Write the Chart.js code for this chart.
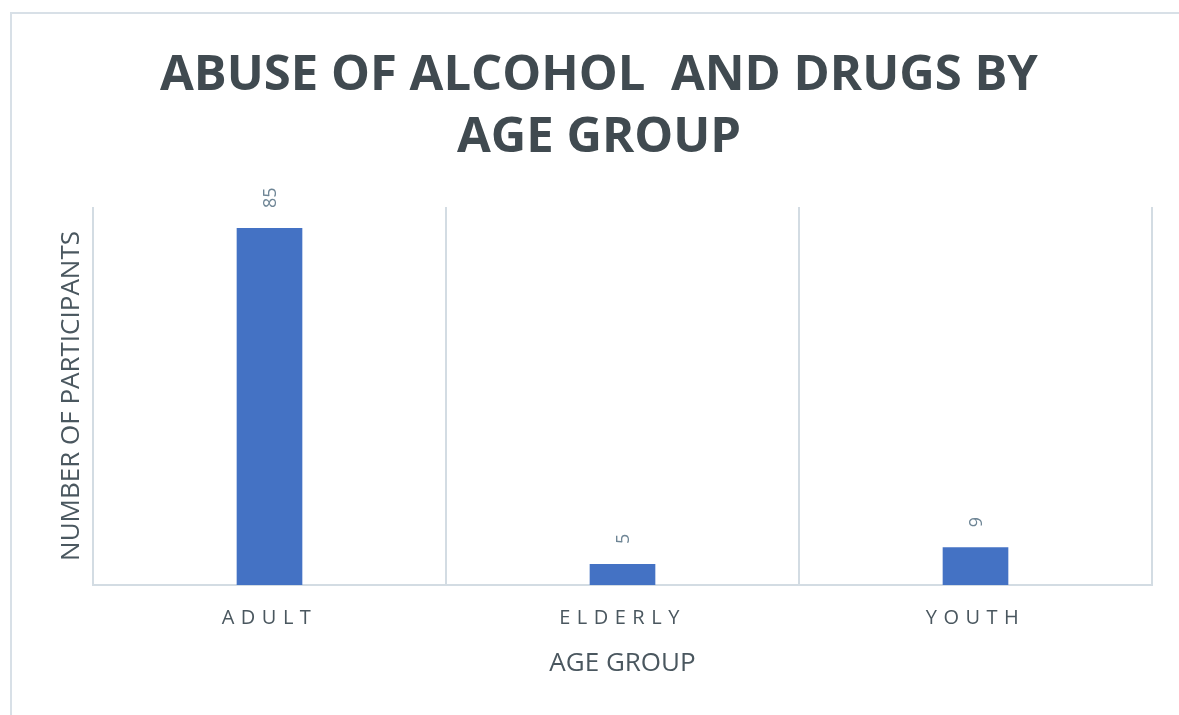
<!DOCTYPE html>
<html lang="en">
<head>
  <meta charset="UTF-8" />
  <title>Abuse of alcohol and drugs by age group</title>
  <style>
    html, body { margin: 0; padding: 0; background: #fff; }
    body { width: 1179px; height: 715px; position: relative; overflow: hidden; }
    .frame { position: absolute; left: 10px; top: 12px; width: 1169px; height: 703px; border-top: 2px solid #d8e0e7; border-left: 2px solid #d8e0e7; box-sizing: border-box; }
    .wrap { position: absolute; left: 0; top: 0; width: 1179px; height: 715px; }
  </style>
</head>
<body>
  <div class="frame"></div>
  <div class="wrap"><canvas id="myChart"></canvas></div>

  <script src="https://cdn.jsdelivr.net/npm/chart.js"></script>
  <script>
    const ctx = document.getElementById('myChart');

    const labels = ['ADULT', 'ELDERLY', 'YOUTH'];
    const participants = [85, 5, 9];

    const FONT = "'Open Sans', sans-serif";
    const TEXT = '#4a575f';
    const GRID = '#d3dce3';

    // value labels standing on the bars, rotated to read upwards
    const barLabels = {
      id: 'barLabels',
      afterDatasetsDraw(chart) {
        const c = chart.ctx;
        const meta = chart.getDatasetMeta(0);
        c.save();
        c.font = '18px ' + FONT;
        c.fillStyle = '#6e8595';
        c.textAlign = 'left';
        c.textBaseline = 'middle';
        meta.data.forEach((bar, i) => {
          c.save();
          c.translate(bar.x + 1, bar.y - 20);
          c.rotate(-Math.PI / 2);
          c.fillText(String(chart.data.datasets[0].data[i]), 0, 0);
          c.restore();
        });
        c.restore();
        // tick labels are drawn after this (ticks.z = 1), spaced out
        c.letterSpacing = '6.5px';
      },
      beforeDraw(chart) { chart.ctx.letterSpacing = '0px'; },
      afterDraw(chart) { chart.ctx.letterSpacing = '0px'; }
    };

    new Chart(ctx, {
      type: 'bar',
      data: {
        labels: labels,
        datasets: [{
          label: 'Participants',
          data: participants,
          backgroundColor: '#4472c4',
          borderWidth: 0,
          barPercentage: 1,
          categoryPercentage: 0.186
        }]
      },
      options: {
        responsive: true,
        maintainAspectRatio: false,
        animation: false,
        layout: { padding: { left: 46, right: 27, top: 0, bottom: 0 } },
        plugins: {
          legend: { display: false },
          tooltip: { enabled: false },
          title: {
            display: true,
            text: ['ABUSE OF ALCOHOL  AND DRUGS BY', 'AGE GROUP'],
            color: '#404a50',
            font: { family: FONT, size: 49, weight: 'bold', lineHeight: 1.27 },
            padding: { top: 45, bottom: 37.5 }
          }
        },
        scales: {
          x: {
            afterFit(scale) { scale.height = 130; },
            grid: { display: true, offset: true, color: GRID, lineWidth: 2, drawTicks: false },
            border: { display: true, color: GRID, width: 2 },
            ticks: {
              z: 1,
              color: TEXT,
              padding: 21,
              font: { family: FONT, size: 20 }
            },
            title: {
              display: true,
              text: 'AGE GROUP',
              color: TEXT,
              font: { family: FONT, size: 26 },
              padding: { top: 0, bottom: 36 }
            }
          },
          y: {
            min: 0,
            max: 90,
            afterFit(scale) { scale.width = 47; },
            grid: { display: false },
            border: { display: false },
            ticks: { display: false },
            title: {
              display: true,
              text: 'NUMBER OF PARTICIPANTS',
              color: TEXT,
              font: { family: FONT, size: 26 },
              padding: { top: 10, bottom: 0 }
            }
          }
        }
      },
      plugins: [barLabels]
    });
  </script>
</body>
</html>
